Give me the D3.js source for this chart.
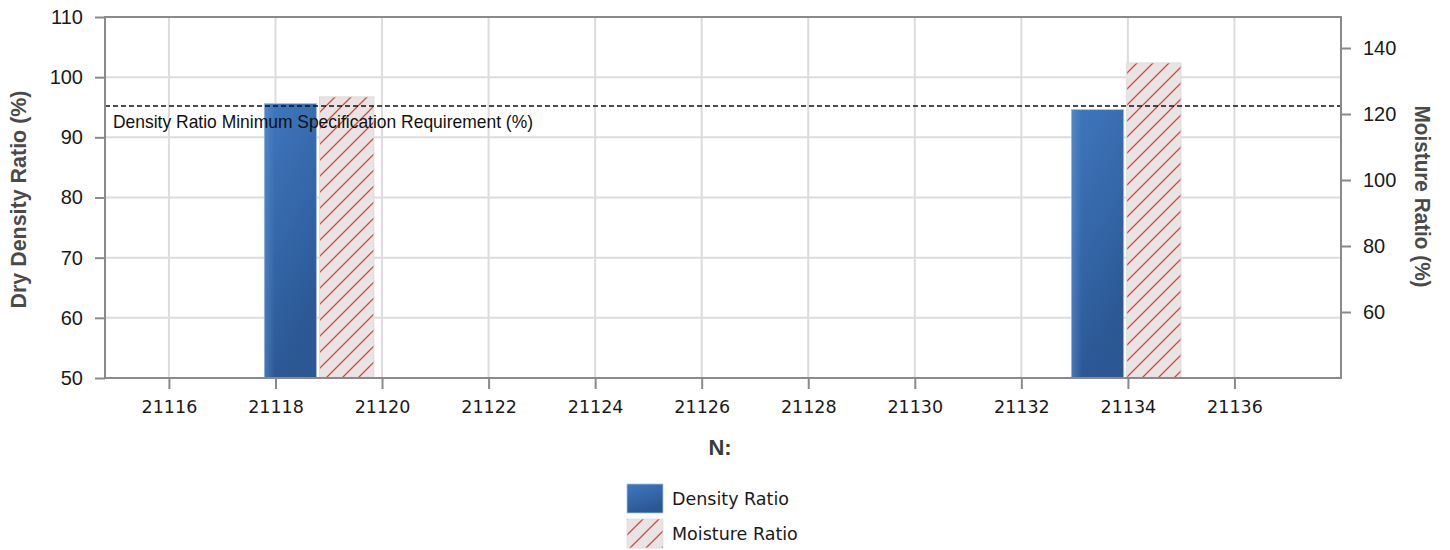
<!DOCTYPE html>
<html>
<head>
<meta charset="utf-8">
<script src="https://cdn.jsdelivr.net/npm/d3@7"></script>
<style>
  html, body { margin: 0; padding: 0; background: #fff; }
  svg { display: block; }
</style>
</head>
<body>
<svg id="chart" width="1450" height="550"></svg>
<script>
// ---- data ----
const categories = [21118.8, 21133.95];          // N: positions
const densityRatio = [95.6, 94.6];               // Dry Density Ratio (%)
const moistureRatio = [125.2, 135.5];            // Moisture Ratio (%)
const specLimit = 95.2;                          // Density Ratio Minimum Specification Requirement (%)
const xTickValues = [21116, 21118, 21120, 21122, 21124, 21126, 21128, 21130, 21132, 21134, 21136];
const yLeftTicks = [50, 60, 70, 80, 90, 100, 110];
const yRightTicks = [60, 80, 100, 120, 140];
const seriesNames = ["Density Ratio", "Moisture Ratio"];

// ---- layout ----
const L = 105, R = 1341, T = 17, B = 378;
const svg = d3.select("#chart");

const x = d3.scaleLinear().domain([21114.8, 21138]).range([L, R]);
const yL = d3.scaleLinear().domain([50, 110]).range([B, T]);
const yR = d3.scaleLinear().domain([40, 149.4]).range([B, T]);

const defs = svg.append("defs");
const grad = defs.append("linearGradient").attr("id", "blueGrad")
  .attr("x1", 0).attr("y1", 0).attr("x2", 0.35).attr("y2", 1);
grad.append("stop").attr("offset", "0%").attr("stop-color", "#3f77bd");
grad.append("stop").attr("offset", "55%").attr("stop-color", "#3466a8");
grad.append("stop").attr("offset", "100%").attr("stop-color", "#2b5792");
const sheen = defs.append("linearGradient").attr("id", "sheen")
  .attr("x1", 0).attr("y1", 0).attr("x2", 1).attr("y2", 0);
sheen.append("stop").attr("offset", "0%").attr("stop-color", "#6b9ad6").attr("stop-opacity", 0.45);
sheen.append("stop").attr("offset", "20%").attr("stop-color", "#6b9ad6").attr("stop-opacity", 0);
sheen.append("stop").attr("offset", "100%").attr("stop-color", "#6b9ad6").attr("stop-opacity", 0);

const pat = defs.append("pattern").attr("id", "hatch")
  .attr("patternUnits", "userSpaceOnUse").attr("width", 16).attr("height", 16);
pat.append("rect").attr("width", 16).attr("height", 16).attr("fill", "#e8e4e4");
pat.append("path").attr("d", "M0,16 L16,0 M-3,3 L3,-3 M13,19 L19,13")
  .attr("stroke", "#d64741").attr("stroke-width", 1.3);

// ---- grid ----
const grid = svg.append("g");
grid.selectAll("line.v").data(xTickValues).enter().append("line")
  .attr("x1", d => x(d)).attr("x2", d => x(d)).attr("y1", T).attr("y2", B)
  .attr("stroke", "#dcdcdc").attr("stroke-width", 2);
grid.selectAll("line.h").data(yLeftTicks.slice(1, -1)).enter().append("line")
  .attr("x1", L).attr("x2", R).attr("y1", d => yL(d)).attr("y2", d => yL(d))
  .attr("stroke", "#dcdcdc").attr("stroke-width", 2);

// ---- bars ----
const gap = 3;
const unit = x(categories[0] + 1) - x(categories[0]);
const bars = svg.append("g");
bars.selectAll("rect.d").data(categories).enter().append("rect")
  .attr("x", d => x(d) - unit - gap / 2 + 1)
  .attr("width", unit - 1)
  .attr("y", (d, i) => yL(densityRatio[i]))
  .attr("height", (d, i) => B - yL(densityRatio[i]))
  .attr("fill", "url(#blueGrad)")
  .attr("stroke", "#a9c4e6").attr("stroke-width", 0.8);
bars.selectAll("rect.ds").data(categories).enter().append("rect")
  .attr("x", d => x(d) - unit - gap / 2 + 1)
  .attr("width", unit - 1)
  .attr("y", (d, i) => yL(densityRatio[i]))
  .attr("height", (d, i) => B - yL(densityRatio[i]))
  .attr("fill", "url(#sheen)");
bars.selectAll("rect.m").data(categories).enter().append("rect")
  .attr("x", d => x(d) + gap / 2)
  .attr("width", unit + 1)
  .attr("y", (d, i) => yR(moistureRatio[i]))
  .attr("height", (d, i) => B - yR(moistureRatio[i]))
  .attr("fill", "url(#hatch)")
  .attr("stroke", "#e0dcdc").attr("stroke-width", 1);

// ---- spec line ----
svg.append("line")
  .attr("x1", L).attr("x2", R).attr("y1", yL(specLimit)).attr("y2", yL(specLimit))
  .attr("stroke", "#111").attr("stroke-width", 1.6).attr("stroke-dasharray", "5,3");
svg.append("text")
  .attr("x", 113).attr("y", yL(specLimit) + 22)
  .attr("font-family", "Liberation Sans, Arial, sans-serif").attr("font-size", 19)
  .attr("textLength", 420).attr("lengthAdjust", "spacingAndGlyphs")
  .attr("fill", "#111")
  .text("Density Ratio Minimum Specification Requirement (%)");

// ---- axes ----
const axisColor = "#8a8a8a";
svg.append("rect").attr("x", L).attr("y", T).attr("width", R - L).attr("height", B - T)
  .attr("fill", "none").attr("stroke", axisColor).attr("stroke-width", 2);

// left axis
const gL = svg.append("g").attr("transform", `translate(${L},0)`);
gL.call(d3.axisLeft(yL).tickValues(d3.range(50, 110.01, 10 / 3)).tickSize(5).tickFormat(""));
gL.call(d3.axisLeft(yL).tickValues(yLeftTicks).tickSize(10).tickPadding(12)
  .tickFormat(d3.format("d")));
gL.selectAll("path.domain").remove();
gL.selectAll("line").attr("stroke", axisColor).attr("stroke-width", 2);
gL.selectAll("text").attr("font-family", "Liberation Sans, Arial, sans-serif")
  .attr("font-size", 20).attr("fill", "#1a1a1a");

// right axis
const gR = svg.append("g").attr("transform", `translate(${R},0)`);
gR.call(d3.axisRight(yR).tickValues(d3.range(40, 149.4, 20 / 3)).tickSize(5).tickFormat(""));
gR.call(d3.axisRight(yR).tickValues(yRightTicks).tickSize(10).tickPadding(12)
  .tickFormat(d3.format("d")));
gR.selectAll("path.domain").remove();
gR.selectAll("line").attr("stroke", axisColor).attr("stroke-width", 2);
gR.selectAll("text").attr("font-family", "Liberation Sans, Arial, sans-serif")
  .attr("font-size", 20).attr("fill", "#1a1a1a");

// bottom axis
const gB = svg.append("g").attr("transform", `translate(0,${B})`);
gB.call(d3.axisBottom(x).tickValues(d3.range(21114.8, 21138.01, 0.4)).tickSize(5).tickFormat(""));
gB.call(d3.axisBottom(x).tickValues(xTickValues).tickSize(11).tickPadding(12)
  .tickFormat(d3.format("d")));
gB.selectAll("path.domain").remove();
gB.selectAll("line").attr("stroke", axisColor).attr("stroke-width", 2);
gB.selectAll("text").attr("font-family", "DejaVu Sans, Verdana, sans-serif")
  .attr("font-size", 17.5).attr("fill", "#1a1a1a");

// ---- titles ----
svg.append("text")
  .attr("transform", `translate(26,${(T + B) / 2 + 2}) rotate(-90)`)
  .attr("text-anchor", "middle")
  .attr("font-family", "Liberation Sans, Arial, sans-serif").attr("font-weight", "bold")
  .attr("font-size", 22).attr("fill", "#4a4a4a")
  .attr("textLength", 218).attr("lengthAdjust", "spacingAndGlyphs")
  .text("Dry Density Ratio (%)");
svg.append("text")
  .attr("transform", `translate(1415,${(T + B) / 2 - 1}) rotate(90)`)
  .attr("text-anchor", "middle")
  .attr("font-family", "Liberation Sans, Arial, sans-serif").attr("font-weight", "bold")
  .attr("font-size", 22).attr("fill", "#4a4a4a")
  .attr("textLength", 182).attr("lengthAdjust", "spacingAndGlyphs")
  .text("Moisture Ratio (%)");
svg.append("text")
  .attr("x", 720).attr("y", 455).attr("text-anchor", "middle")
  .attr("font-family", "Liberation Sans, Arial, sans-serif").attr("font-weight", "bold")
  .attr("font-size", 22).attr("fill", "#3a3a3a")
  .text("N:");

// ---- legend ----
const leg = svg.append("g").attr("transform", "translate(627,484)");
const fills = ["url(#blueGrad)", "url(#hatch)"];
seriesNames.forEach((name, i) => {
  const g = leg.append("g").attr("transform", `translate(0,${i * 35})`);
  g.append("rect").attr("width", 36).attr("height", 29).attr("fill", fills[i])
    .attr("stroke", i === 0 ? "#a9c4e6" : "#e0dcdc").attr("stroke-width", 0.8);
  g.append("text").attr("x", 45).attr("y", 21)
    .attr("font-family", "DejaVu Sans, Verdana, sans-serif").attr("font-size", 17.5)
    .attr("fill", "#1a1a1a").text(name);
});
</script>
</body>
</html>
